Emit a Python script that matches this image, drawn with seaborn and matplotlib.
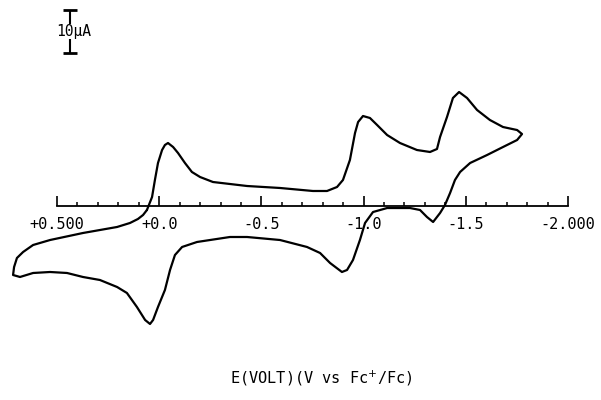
import matplotlib
matplotlib.use("Agg")
import matplotlib.pyplot as plt
from matplotlib.ticker import FixedLocator
import pandas as pd
import seaborn as sns

# cyclic voltammogram (potential in V vs Fc+/Fc, current in uA)
potential = [0.060, 0.035, 0.021, 0.006, -0.014, -0.028, -0.043, -0.068, -0.092, -0.126,
             -0.160, -0.200, -0.263, -0.430, -0.591, -0.752, -0.821, -0.870, -0.899, -0.933,
             -0.958, -0.973, -0.997, -1.031, -1.066, -1.115, -1.178, -1.261, -1.325, -1.359,
             -1.374, -1.408, -1.437, -1.467, -1.506, -1.555, -1.618, -1.682, -1.751, -1.775,
             -1.751, -1.682, -1.604, -1.521, -1.472, -1.447, -1.423, -1.398, -1.374, -1.340,
             -1.310, -1.276, -1.227, -1.115, -1.046, -1.007, -0.982, -0.948, -0.919, -0.894,
             -0.836, -0.787, -0.723, -0.591, -0.430, -0.346, -0.185, -0.112, -0.077, -0.053,
             -0.028, 0.006, 0.030, 0.045, 0.069, 0.109, 0.158, 0.206, 0.290, 0.373,
             0.451, 0.534, 0.617, 0.681, 0.715, 0.710, 0.696, 0.666, 0.617, 0.534,
             0.373, 0.206, 0.143, 0.104, 0.079, 0.060]
current = [-0.93, 2.09, 6.05, 10.00, 13.02, 14.19, 14.65, 13.72, 12.33, 10.00,
           7.91, 6.74, 5.58, 4.65, 4.19, 3.49, 3.49, 4.42, 6.05, 10.70,
           16.98, 19.53, 20.93, 20.47, 18.84, 16.51, 14.65, 13.02, 12.56, 13.26,
           16.05, 20.70, 25.12, 26.51, 25.12, 22.33, 20.00, 18.37, 17.67, 16.74,
           15.35, 13.72, 11.86, 10.00, 7.91, 6.05, 3.02, 0.23, -1.63, -3.72,
           -2.56, -0.93, -0.47, -0.47, -1.40, -3.95, -7.91, -12.56, -14.88, -15.35,
           -13.26, -10.93, -9.53, -7.91, -7.21, -7.21, -8.37, -9.53, -11.40, -14.88,
           -19.53, -23.49, -26.51, -27.44, -26.51, -23.49, -20.23, -18.84, -17.21, -16.51,
           -15.58, -15.35, -15.58, -16.51, -16.05, -14.19, -12.09, -10.70, -9.07, -7.91,
           -6.28, -4.88, -3.95, -3.02, -2.09, -0.93]

tick_pos = [0.5, 0.0, -0.5, -1.0, -1.5, -2.0]
tick_labels = ["+0.500", "+0.0", "-0.5", "-1.0", "-1.5", "-2.000"]
minor_pos = [0.4, 0.3, 0.2, 0.1, -0.1, -0.2, -0.3, -0.4, -0.6, -0.7, -0.8, -0.9,
             -1.1, -1.2, -1.3, -1.4, -1.6, -1.7, -1.8, -1.9]
scale_uA = 10

df = pd.DataFrame({"E": potential, "I": current})

sns.set_style("white")
plt.rcParams["font.family"] = ["DejaVu Sans Mono", "DejaVu Sans"]
plt.rcParams["text.color"] = "black"

fig = plt.figure(figsize=(6.01, 4.0), dpi=100)
ax = fig.add_axes([0, 0, 1, 1])

sns.lineplot(data=df, x="E", y="I", sort=False, estimator=None,
             color="black", linewidth=1.6, ax=ax)

ax.set_xlim(0.7789, -2.1614)
ax.set_ylim(-45.12, 47.91)

# axis drawn through zero current, like the plotter trace
for side in ["top", "left", "right"]:
    ax.spines[side].set_visible(False)
ax.spines["bottom"].set_position(("data", 0))
ax.spines["bottom"].set_bounds(-2.0, 0.5)
ax.spines["bottom"].set_linewidth(1.3)
ax.spines["bottom"].set_color("black")

ax.set_xticks(tick_pos)
ax.set_xticklabels(tick_labels)
ax.xaxis.set_minor_locator(FixedLocator(minor_pos))
ax.tick_params(axis="x", which="major", direction="in", length=7, width=1.2,
               pad=8, labelsize=11, colors="black", labelcolor="black", bottom=True)
ax.tick_params(axis="x", which="minor", direction="in", length=3, width=1.1,
               bottom=True, colors="black")
ax.set_yticks([])
ax.set_xlabel("")
ax.set_ylabel("")

# 10 uA scale bar
ax.errorbar([0.436], [40.6], yerr=[scale_uA / 2], color="black", capsize=5,
            capthick=2, elinewidth=1.5)
ax.text(0.417, 40.5, "10\u00b5A", ha="center", va="center", fontsize=10.5,
        color="black", bbox=dict(facecolor="white", edgecolor="none", pad=0))

ax.text(-0.792, -40.0, "E(VOLT)(V vs Fc$^{+}$/Fc)", ha="center", va="center",
        fontsize=11, color="black")

fig.savefig("out.png", dpi=100)
